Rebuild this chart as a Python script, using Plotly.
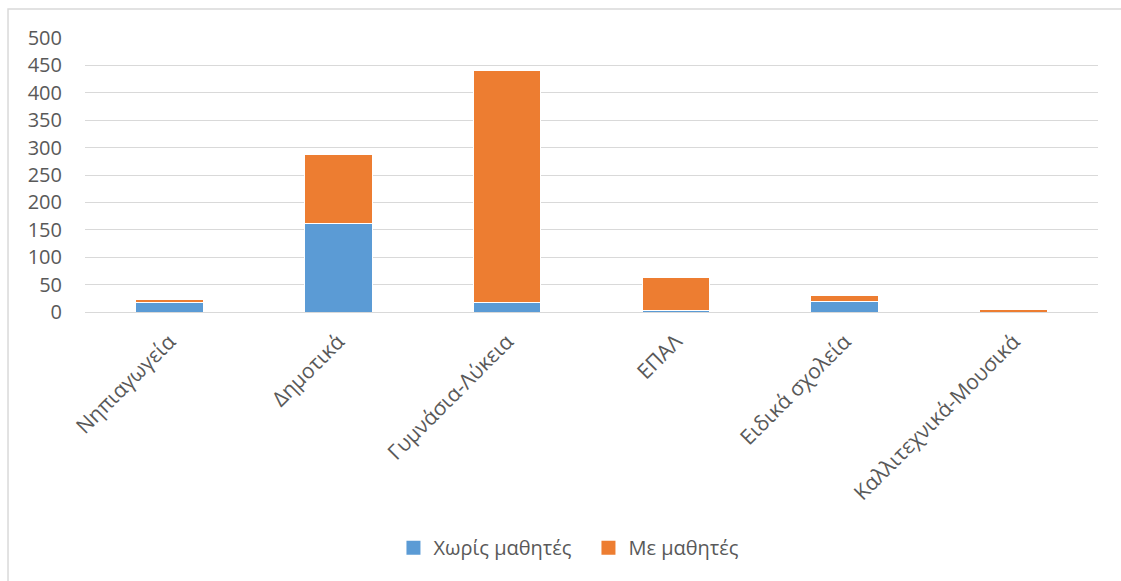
import plotly.graph_objects as go

categories = ["Νηπιαγωγεία", "Δημοτικά", "Γυμνάσια-Λύκεια", "ΕΠΑΛ", "Ειδικά σχολεία", "Καλλιτεχνικά-Μουσικά"]
without_students = [18, 162, 17, 2, 19, 0]
with_students = [5, 125, 423, 61, 12, 5]
y_ticks = [0, 50, 100, 150, 200, 250, 300, 350, 400, 450, 500]

BLUE = "#5b9bd5"
ORANGE = "#ed7d31"
TEXT = "#595959"
GRID = "#d9d9d9"
FONT = "Open Sans"

series = [("Χωρίς μαθητές", without_students, BLUE), ("Με μαθητές", with_students, ORANGE)]

fig = go.Figure()
for name, values, color in series:
    fig.add_bar(x=categories, y=values, name=name, showlegend=False,
                marker=dict(color=color, line=dict(color="white", width=1)))
# legend entries with larger square swatches
for name, values, color in series:
    fig.add_scatter(x=[None], y=[None], mode="markers", name=name,
                    marker=dict(symbol="square", size=14, color=color))

fig.update_layout(
    barmode="stack",
    bargap=0.6,
    width=1121, height=581,
    margin=dict(l=85, r=23, t=38, b=269),
    paper_bgcolor="white",
    plot_bgcolor="white",
    font=dict(family=FONT, size=19, color=TEXT),
    legend=dict(orientation="h", x=0.497, xanchor="center", y=-0.86, yanchor="middle",
                traceorder="normal", font=dict(family=FONT, size=20, color=TEXT),
                itemwidth=30, tracegroupgap=0, entrywidth=150, entrywidthmode="pixels"),
    xaxis=dict(tickangle=-45, showgrid=False, showline=True, linecolor=GRID, linewidth=1,
               ticks="", tickfont=dict(family=FONT, size=21, color=TEXT), ticklabelstandoff=8),
    yaxis=dict(range=[0, 500], tickvals=y_ticks, showgrid=True, gridcolor=GRID, gridwidth=1,
               zeroline=False, showline=False, ticks="",
               tickfont=dict(family=FONT, size=20, color=TEXT), ticklabelstandoff=22),
    shapes=[dict(type="rect", xref="paper", yref="paper",
                 x0=-0.076, x1=1.05, y0=-1.4, y1=1.106,
                 line=dict(color=GRID, width=1.5), fillcolor="rgba(0,0,0,0)", layer="below")],
)

fig.write_html("out.html")
